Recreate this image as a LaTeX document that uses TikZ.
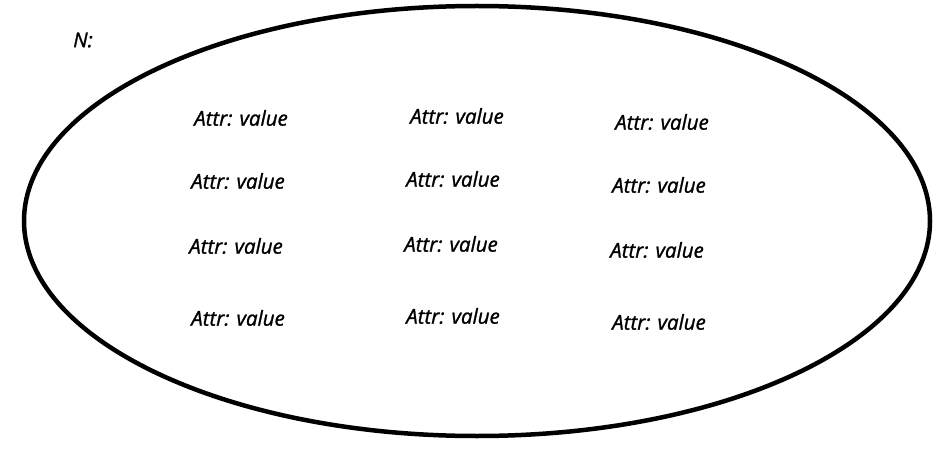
\documentclass[tikz,border=0pt]{standalone}
\usepackage{fontspec}
\setmainfont{Open Sans}[ItalicFeatures={FakeBold=1.2}]
\usepackage{tikz}
\tikzset{attr/.style={font=\itshape\fontsize{20.5}{24}\selectfont, inner sep=0pt},
 outline/.style={draw=black, line width=4.5pt},
 }

\begin{document}
\begin{tikzpicture}[x=1pt,y=-1pt]
        \useasboundingbox (0,0) rectangle (950,449);
        \draw [outline] (477,221) ellipse [x radius=453, y radius=215];
        \node [attr] (n) at (83, 40) {N:};
        \node [attr] (a11) at (241, 118) {Attr: value};
        \node [attr] (a12) at (457, 116) {Attr: value};
        \node [attr] (a13) at (662, 122) {Attr: value};
        \node [attr] (a21) at (238, 181) {Attr: value};
        \node [attr] (a22) at (453, 179) {Attr: value};
        \node [attr] (a23) at (659, 185) {Attr: value};
        \node [attr] (a31) at (236, 246) {Attr: value};
        \node [attr] (a32) at (451, 244) {Attr: value};
        \node [attr] (a33) at (657, 250) {Attr: value};
        \node [attr] (a41) at (238, 318) {Attr: value};
        \node [attr] (a42) at (453, 316) {Attr: value};
        \node [attr] (a43) at (659, 322) {Attr: value};
    \end{tikzpicture}
\end{document}
